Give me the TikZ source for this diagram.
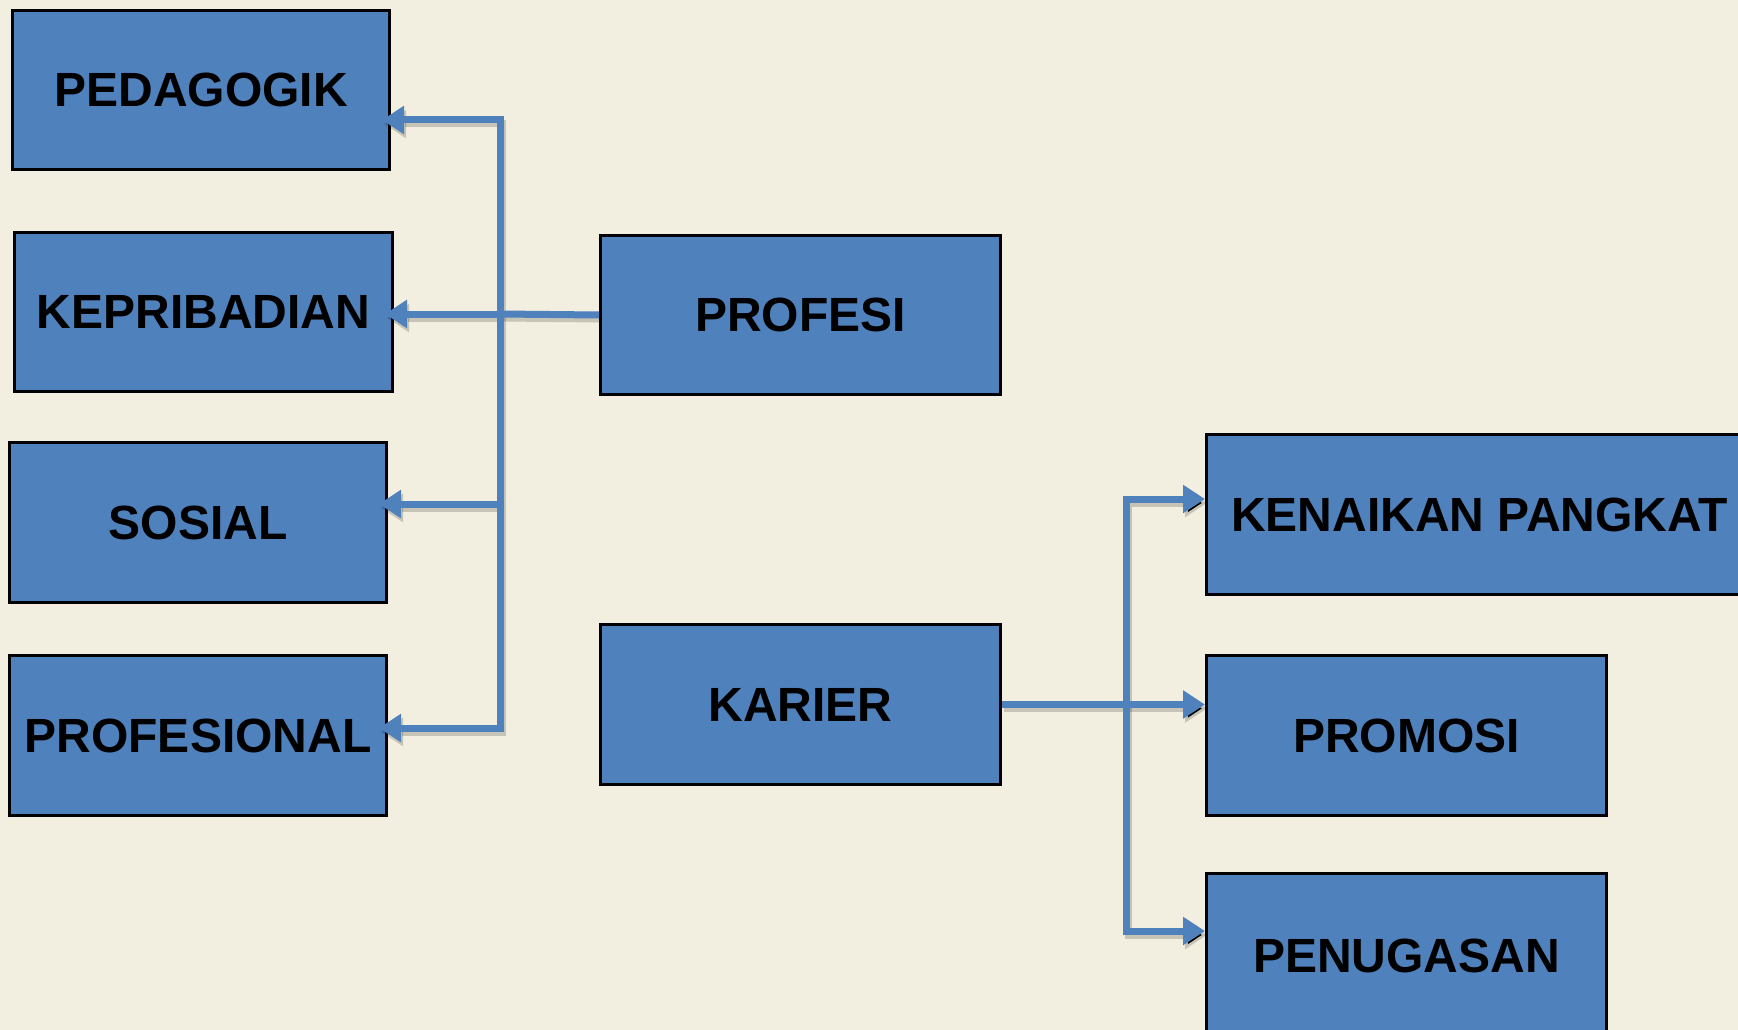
\documentclass[tikz,border=0pt]{standalone}
\usepackage{fontspec}
\setmainfont{Liberation Sans}
\usetikzlibrary{arrows.meta}
\definecolor{bgcream}{HTML}{F2EEE0}
\definecolor{boxblue}{HTML}{4F81BD}
\newcommand\drawlinks{%
  \draw[lnk] (profesi.west) -- (jL);
  \draw[lnkarr, shorten >=-9pt] (jL) |- (ped.east |- 0,120);
  \draw[lnkarr, shorten >=-9pt] (jL) |- (profl.east |- 0,728);
  \draw[lnkarr, shorten >=-9pt] (jL) -- (kep.east |- jL);
  \draw[lnkarr, shorten >=-9pt] (jS) -- (sos.east |- jS);
  \draw[lnkarr] (karier.east) -- (promosi.west |- karier.east);
  \draw[lnkarr] (jR) |- (kenaikan.west |- 0,499);
  \draw[lnkarr] (jR) |- (penugasan.west |- 0,931);
}
\begin{document}
\begin{tikzpicture}[x=1pt,y=-1pt,
  box/.style={draw=black, line width=3pt, fill=boxblue, anchor=north west,
    inner sep=0pt, text=black, font=\fontsize{48}{56}\selectfont\bfseries},
  lnk/.style={line width=7pt, draw=boxblue},
  lnkarr/.style={lnk, -{Triangle[length=22pt,width=27pt]}}]
\fill[bgcream] (0,0) rectangle (1738,1030);
\useasboundingbox (0,0) rectangle (1738,1030);
\clip (0,0) rectangle (1738,1030);

\node[box, minimum width=377pt, minimum height=159pt] (ped) at (11,9) {PEDAGOGIK};
\node[box, minimum width=378pt, minimum height=159pt] (kep) at (13,231) {KEPRIBADIAN};
\node[box, minimum width=377pt, minimum height=160pt] (sos) at (8,441) {SOSIAL};
\node[box, minimum width=377pt, minimum height=160pt] (profl) at (8,654) {PROFESIONAL};
\node[box, minimum width=400pt, minimum height=159pt] (profesi) at (599,234) {PROFESI};
\node[box, minimum width=400pt, minimum height=160pt] (karier) at (599,623) {KARIER};
\node[box, minimum width=546pt, minimum height=160pt] (kenaikan) at (1205,433) {KENAIKAN PANGKAT};
\node[box, minimum width=400pt, minimum height=160pt] (promosi) at (1205,654) {PROMOSI};
\node[box, minimum width=400pt, minimum height=165pt] (penugasan) at (1205,872) {PENUGASAN};

\coordinate (jL) at (500,314);
\coordinate (jS) at (500,504);
\coordinate (jR) at (1126,703);

\begin{scope}[transform canvas={xshift=2pt,yshift=-4pt},
  lnk/.style={line width=7pt, draw=black, draw opacity=0.18}]
\drawlinks
\end{scope}
\drawlinks
\end{tikzpicture}
\end{document}
